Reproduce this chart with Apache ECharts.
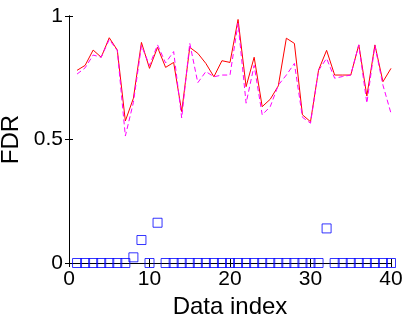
<!DOCTYPE html>
<html>
<head>
<meta charset="utf-8">
<script src="https://cdn.jsdelivr.net/npm/echarts@6/dist/echarts.min.js"></script>
<style>
    html, body { margin: 0; padding: 0; background: #fff; }
    #chart { width: 407px; height: 316px; }
</style>
</head>
<body>
<div id="chart"></div>
<script>
// data index 1..40
const dataIndex = [1, 2, 3, 4, 5, 6, 7, 8, 9, 10, 11, 12, 13, 14, 15, 16, 17, 18, 19, 20,
    21, 22, 23, 24, 25, 26, 27, 28, 29, 30, 31, 32, 33, 34, 35, 36, 37, 38, 39, 40];

// red solid
const fdrRed = [0.78, 0.80, 0.862, 0.833, 0.912, 0.862, 0.575, 0.667, 0.893, 0.788,
    0.873, 0.792, 0.812, 0.613, 0.873, 0.849, 0.808, 0.754, 0.819, 0.812,
    0.986, 0.714, 0.833, 0.633, 0.663, 0.717, 0.91, 0.889, 0.60, 0.572,
    0.781, 0.861, 0.761, 0.761, 0.761, 0.883, 0.676, 0.883, 0.734, 0.788];
// magenta dashed
const fdrMagenta = [0.765, 0.79, 0.842, 0.833, 0.905, 0.86, 0.514, 0.65, 0.88, 0.80,
    0.883, 0.81, 0.856, 0.587, 0.89, 0.73, 0.775, 0.754, 0.761, 0.761,
    0.97, 0.647, 0.80, 0.60, 0.633, 0.72, 0.761, 0.808, 0.59, 0.566,
    0.78, 0.828, 0.748, 0.755, 0.761, 0.883, 0.647, 0.88, 0.72, 0.606];
// blue squares
const fdrBlue = [0, 0, 0, 0, 0, 0, 0, 0.023, 0.093, 0,
    0.163, 0, 0, 0, 0, 0, 0, 0, 0, 0,
    0, 0, 0, 0, 0, 0, 0, 0, 0, 0,
    0, 0.14, 0, 0, 0, 0, 0, 0, 0, 0];

const xTicks = [0, 10, 20, 30, 40];
const yTicks = [0, 0.5, 1];

function pairs(ys) {
    return dataIndex.map(function (x, i) { return [x, ys[i]]; });
}

const font = 'Liberation Sans, Arial, Helvetica, sans-serif';

const chart = echarts.init(document.getElementById('chart'), null, { renderer: 'canvas' });

const boxAxis = {
    axisLine: { show: true, lineStyle: { color: '#000', width: 1 } },
    axisTick: { show: true, inside: true, length: 4, lineStyle: { color: '#000' } },
    splitLine: { show: false }
};

chart.setOption({
    animation: false,
    backgroundColor: '#fff',
    grid: { left: 69, right: 16, top: 16, bottom: 53, containLabel: false, outerBoundsMode: 'none' },
    xAxis: [{
        type: 'value', position: 'bottom',
        min: xTicks[0], max: xTicks[xTicks.length - 1], interval: 10,
        name: 'Data index', nameLocation: 'middle', nameGap: 24,
        nameTextStyle: { fontFamily: font, fontSize: 24, color: '#000' },
        axisLabel: { fontFamily: font, fontSize: 21, color: '#000', margin: 6 },
        ...boxAxis
    }, {
        type: 'value', position: 'top',
        min: xTicks[0], max: xTicks[xTicks.length - 1], interval: 10,
        axisLabel: { show: false },
        ...boxAxis
    }],
    yAxis: [{
        type: 'value', position: 'left',
        min: yTicks[0], max: yTicks[yTicks.length - 1], interval: 0.5,
        name: 'FDR', nameLocation: 'middle', nameGap: 44, nameRotate: 90,
        nameTextStyle: { fontFamily: font, fontSize: 24, color: '#000' },
        axisLabel: { fontFamily: font, fontSize: 21, color: '#000', margin: 6 },
        ...boxAxis
    }, {
        type: 'value', position: 'right',
        min: yTicks[0], max: yTicks[yTicks.length - 1], interval: 0.5,
        axisLabel: { show: false },
        ...boxAxis
    }],
    series: [{
        type: 'line', data: pairs(fdrRed), symbol: 'none',
        lineStyle: { color: '#ff0000', width: 1 }
    }, {
        type: 'line', data: pairs(fdrMagenta), symbol: 'none',
        lineStyle: { color: '#ff00ff', width: 1, type: [5, 3] }
    }, {
        type: 'scatter', data: pairs(fdrBlue), symbol: 'rect', symbolSize: 9,
        clip: false,
        itemStyle: { color: 'rgba(0,0,0,0)', borderColor: '#0000ff', borderWidth: 1 }
    }]
});
</script>
</body>
</html>
